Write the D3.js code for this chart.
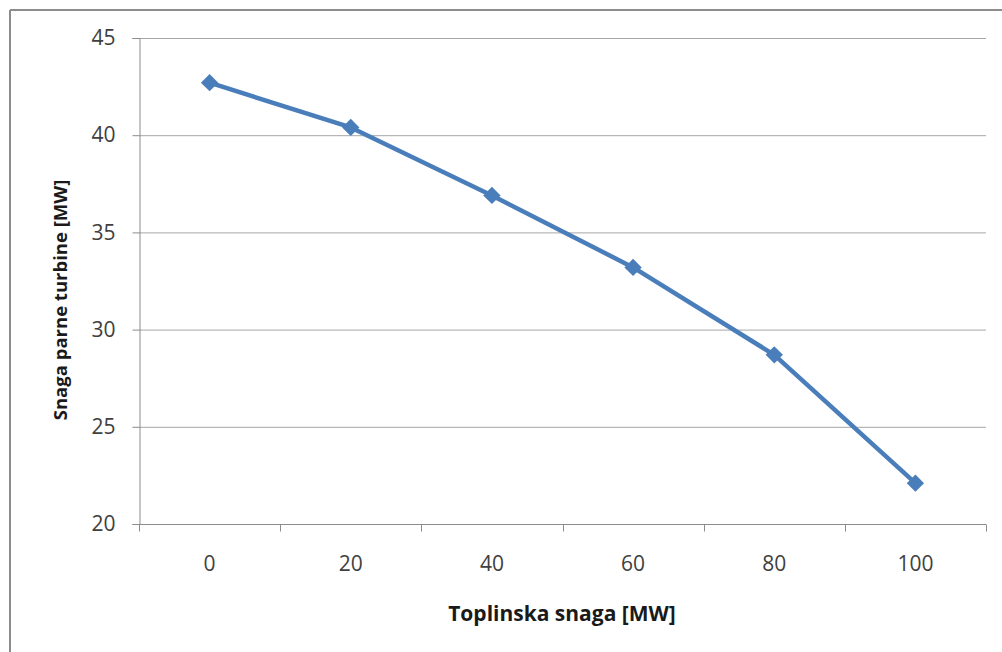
<!DOCTYPE html>
<html><head><meta charset="utf-8">
<script src="https://cdn.jsdelivr.net/npm/d3@7"></script>
<style>body{margin:0;background:#fff}svg{display:block}</style>
</head><body>
<script>
const categories = [0, 20, 40, 60, 80, 100];
const values = [42.7, 40.4, 36.9, 33.2, 28.7, 22.1];
const yTicks = [20, 25, 30, 35, 40, 45];
const xTitle = "Toplinska snaga [MW]";
const yTitle = "Snaga parne turbine [MW]";

(function () {
const W = 1002, H = 652;
const pLeft = 139, pRight = 986, pTop = 38, pBottom = 524;
const font = "'Open Sans', sans-serif";

const svg = d3.select("body").append("svg").attr("width", W).attr("height", H);

// outer chart border (left & top visible)
svg.append("line").attr("x1",10).attr("x2",10).attr("y1",10).attr("y2",H).attr("stroke","#8c8c8c").attr("stroke-width",2);
svg.append("line").attr("x1",10).attr("x2",W).attr("y1",10).attr("y2",10).attr("stroke","#8c8c8c").attr("stroke-width",2);

const x = d3.scaleBand().domain(categories).range([pLeft, pRight]).padding(0);
const y = d3.scaleLinear().domain([20, 45]).range([pBottom, pTop]);

// gridlines
svg.append("g").selectAll("line").data(yTicks.filter(d => d !== 20)).join("line")
  .attr("x1", pLeft).attr("x2", pRight)
  .attr("y1", d => y(d) + 0.5).attr("y2", d => y(d) + 0.5)
  .attr("stroke", "#a6a6a6").attr("stroke-width", 1);

// y axis
const yAxis = svg.append("g").attr("transform", `translate(${pLeft + 0.5},0)`)
  .call(d3.axisLeft(y).tickValues(yTicks).tickSize(7).tickPadding(17).tickFormat(d3.format("d")));
yAxis.select(".domain").attr("stroke", "#8c8c8c");
yAxis.selectAll(".tick line").attr("stroke", "#8c8c8c");
yAxis.selectAll("text").attr("font-family", font).attr("font-size", 21).attr("fill", "#404040");

// x axis
const xAxisG = svg.append("g").attr("transform", `translate(0,${pBottom + 0.5})`);
xAxisG.append("line").attr("x1", pLeft).attr("x2", pRight).attr("stroke", "#8c8c8c");
const bounds = categories.map(c => x(c)).concat([pRight]);
xAxisG.selectAll(".tk").data(bounds).join("line").attr("class","tk")
  .attr("x1", d => Math.round(d) + 0.5).attr("x2", d => Math.round(d) + 0.5)
  .attr("y1", 0).attr("y2", 7).attr("stroke", "#8c8c8c");
xAxisG.selectAll("text").data(categories).join("text")
  .attr("x", d => x(d) + x.bandwidth() / 2).attr("y", 46)
  .attr("text-anchor", "middle").attr("font-family", font).attr("font-size", 21).attr("fill", "#404040")
  .text(d => d);

// titles
svg.append("text").attr("x", 562).attr("y", 621).attr("text-anchor", "middle")
  .attr("font-family", font).attr("font-weight", "bold").attr("font-size", 21).attr("fill", "#1a1a1a")
  .text(xTitle);
svg.append("text").attr("transform", `translate(67,300) rotate(-90)`).attr("text-anchor", "middle")
  .attr("font-family", font).attr("font-weight", "bold").attr("font-size", 18.5).attr("fill", "#1a1a1a")
  .text(yTitle);

// line
const pts = categories.map((c, i) => [x(c) + x.bandwidth() / 2, y(values[i])]);
svg.append("path").attr("d", d3.line()(pts)).attr("fill", "none")
  .attr("stroke", "#4a7ebb").attr("stroke-width", 4.5).attr("stroke-linejoin", "round");
svg.append("g").selectAll("path").data(pts).join("path")
  .attr("d", d3.symbol().type(d3.symbolSquare).size(150))
  .attr("transform", d => `translate(${d[0]},${d[1]}) rotate(45)`)
  .attr("fill", "#4a7ebb");
})();
</script>
</body></html>
